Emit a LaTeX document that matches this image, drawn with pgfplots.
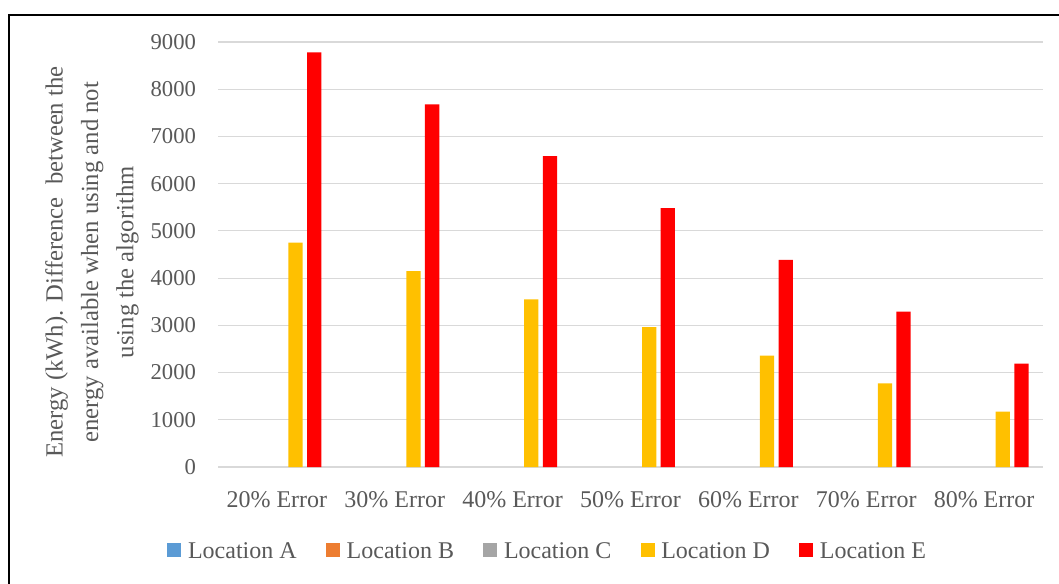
\documentclass[border=0pt]{standalone}
\usepackage{pgfplots}
\pgfplotsset{compat=1.18}
\usepackage{fontspec}
\setmainfont{Liberation Serif}
\definecolor{txt}{HTML}{595959}
\definecolor{gridc}{HTML}{D9D9D9}
\definecolor{cA}{HTML}{5B9BD5}
\definecolor{cB}{HTML}{ED7D31}
\definecolor{cC}{HTML}{A5A5A5}
\definecolor{cD}{HTML}{FFC000}
\definecolor{cE}{HTML}{FF0000}
\begin{document}
\begin{tikzpicture}
\useasboundingbox (0,0) rectangle (794.25pt,437.25pt);
\draw[black, line width=1.1pt] (6.75pt,-5pt) -- (6.75pt,426pt) -- (800pt,426pt);
\begin{axis}[
  at={(163.5pt,87pt)}, anchor=south west,
  scale only axis, width=618.75pt, height=318.75pt,
  xmin=-0.5, xmax=6.5, ymin=0, ymax=9000,
  ybar, bar width=10.7pt,
  xtick={0,...,6},
  xticklabels={20\% Error,30\% Error,40\% Error,50\% Error,60\% Error,70\% Error,80\% Error},
  ytick={0,1000,...,9000},
  major tick length=0,
  axis line style={draw=none},
  ymajorgrids, grid style={gridc, line width=0.8pt},
  scaled y ticks=false,
  /pgf/number format/set thousands separator={},
  /pgf/number format/assume math mode=true,
  tick label style={text=txt},
  yticklabel style={xshift=-13pt, font=\fontsize{17}{20}\selectfont},
  xticklabel style={yshift=-15pt, font=\fontsize{18}{20}\selectfont},
  ylabel={Energy (kWh). Difference\ \ between the\\energy available when using and not\\using the algorithm},
  ylabel style={at={(axis description cs:-0.1527,0.482)}, anchor=center, align=center, font=\fontsize{18.5}{26.5}\selectfont, text=txt},
  legend columns=5,
  legend style={at={(axis description cs:0.400,-0.198)}, anchor=center, draw=none, font=\fontsize{18}{20}\selectfont, text=txt,
    /tikz/every odd column/.append style={column sep=3pt},
    /tikz/every even column/.append style={column sep=20pt}},
  legend image code/.code={\fill[#1] (0pt,-4.5pt) rectangle (10.5pt,6pt);},
  every axis plot/.append style={draw=none},
]
\addlegendimage{fill=cA}
\addlegendimage{fill=cB}
\addlegendimage{fill=cC}
\addplot[fill=cD, bar shift=14pt] coordinates {(0,4750) (1,4150) (2,3550) (3,2960) (4,2360) (5,1770) (6,1175)};
\addplot[fill=cE, bar shift=28pt] coordinates {(0,8780) (1,7680) (2,6585) (3,5480) (4,4385) (5,3290) (6,2190)};
\legend{Location A,Location B,Location C,Location D,Location E}
\end{axis}
\end{tikzpicture}
\end{document}
